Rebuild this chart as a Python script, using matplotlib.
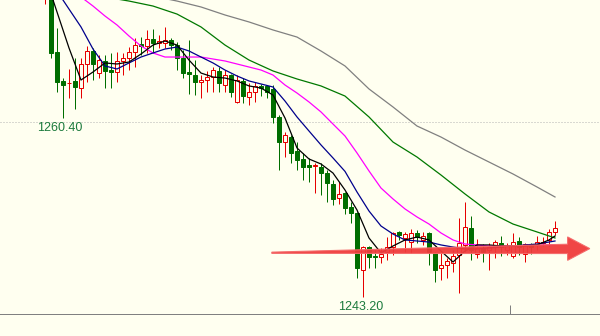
import numpy as np
import matplotlib
matplotlib.use("Agg")
import matplotlib.pyplot as plt
from matplotlib.patches import Polygon

# bar numbers of the visible candles
bars = list(range(7, 93))

opens = [1271.93, 1272.70, 1266.74, 1263.96, 1263.72, 1263.96, 1263.28, 1265.59, 1266.84, 1264.72,
         1265.88, 1265.01, 1264.82, 1265.88, 1266.17, 1266.74, 1267.51, 1267.32, 1267.99, 1267.61,
         1267.61, 1267.90, 1267.41, 1266.17, 1264.82, 1264.53, 1263.86, 1264.05, 1264.34, 1264.92,
         1263.57, 1264.53, 1261.94, 1263.96, 1262.42, 1262.90, 1263.48, 1263.48, 1263.19, 1260.50,
         1258.09, 1258.57, 1257.23, 1256.46, 1255.88, 1255.79, 1255.69, 1255.11, 1254.06, 1252.71,
         1253.19, 1251.85, 1251.27, 1245.79, 1248.00, 1247.14, 1247.04, 1247.52, 1248.00, 1249.44,
         1248.87, 1248.48, 1249.35, 1248.68, 1249.35, 1247.43, 1245.99, 1246.27, 1246.47, 1247.24,
         1248.20, 1249.83, 1247.33, 1247.91, 1247.72, 1248.00, 1248.39, 1247.72, 1247.14, 1248.58,
         1247.33, 1248.29, 1248.20, 1248.39, 1248.68, 1249.45]
highs = [1273.09, 1272.89, 1269.05, 1264.24, 1265.11, 1266.17, 1266.17, 1267.32, 1267.13, 1266.45,
         1266.45, 1266.65, 1266.74, 1266.65, 1267.22, 1268.09, 1268.18, 1268.86, 1268.95, 1268.38,
         1269.15, 1268.09, 1267.70, 1266.93, 1267.90, 1265.97, 1264.53, 1264.92, 1265.30, 1265.30,
         1265.01, 1264.63, 1264.53, 1264.24, 1263.76, 1263.86, 1263.67, 1263.57, 1263.57, 1260.69,
         1259.06, 1258.77, 1258.09, 1257.04, 1256.56, 1256.08, 1256.08, 1255.40, 1254.44, 1254.25,
         1253.29, 1252.33, 1251.37, 1248.10, 1248.10, 1247.72, 1247.91, 1248.96, 1249.44, 1249.54,
         1249.44, 1249.73, 1249.64, 1249.44, 1249.44, 1247.52, 1247.52, 1246.95, 1247.72, 1250.79,
         1252.33, 1250.98, 1248.77, 1248.29, 1248.39, 1248.68, 1249.06, 1248.39, 1249.35, 1248.96,
         1248.39, 1248.39, 1249.06, 1248.96, 1249.73, 1250.50]
lows = [1271.36, 1266.17, 1262.90, 1260.40, 1262.32, 1261.27, 1262.32, 1263.86, 1264.05, 1264.24,
        1263.28, 1263.28, 1263.86, 1264.53, 1265.01, 1265.30, 1266.45, 1266.65, 1266.65, 1267.13,
        1267.13, 1266.93, 1265.01, 1264.24, 1262.71, 1262.61, 1262.32, 1262.90, 1262.90, 1262.90,
        1262.90, 1262.42, 1261.84, 1261.84, 1261.65, 1261.94, 1262.51, 1262.32, 1259.92, 1255.40,
        1256.65, 1256.08, 1255.40, 1254.44, 1254.25, 1253.19, 1253.00, 1252.33, 1252.04, 1252.14,
        1251.17, 1250.31, 1245.03, 1243.20, 1245.99, 1245.99, 1246.47, 1246.75, 1247.24, 1248.68,
        1247.52, 1247.43, 1248.39, 1248.20, 1246.27, 1244.64, 1244.83, 1245.03, 1245.60, 1243.58,
        1247.52, 1246.75, 1246.95, 1246.56, 1245.79, 1246.95, 1247.14, 1247.24, 1246.95, 1247.24,
        1246.56, 1247.33, 1247.72, 1248.10, 1248.10, 1249.16]
closes = [1272.70, 1266.65, 1263.86, 1263.57, 1263.81, 1263.38, 1265.59, 1266.84, 1265.59, 1265.97,
          1264.92, 1264.82, 1265.88, 1266.17, 1266.74, 1267.41, 1267.32, 1267.99, 1267.61, 1267.80,
          1267.90, 1267.41, 1266.17, 1264.72, 1264.63, 1263.86, 1264.05, 1264.34, 1265.01, 1263.76,
          1264.53, 1262.90, 1264.05, 1262.51, 1262.90, 1263.48, 1263.28, 1262.90, 1260.50, 1258.09,
          1258.77, 1257.04, 1256.36, 1255.69, 1255.69, 1255.88, 1255.11, 1254.15, 1252.62, 1253.10,
          1251.75, 1251.27, 1245.99, 1248.00, 1247.04, 1247.04, 1247.33, 1248.00, 1249.35, 1249.16,
          1249.25, 1249.35, 1248.96, 1249.06, 1247.52, 1245.79, 1246.27, 1246.66, 1247.14, 1248.39,
          1249.93, 1247.72, 1247.91, 1247.52, 1248.00, 1248.48, 1248.00, 1248.10, 1248.48, 1248.00,
          1248.29, 1248.00, 1248.48, 1248.48, 1249.45, 1249.83]

# moving averages
ma_fast_bars = list(range(7, 92, 2)) + [92]
ma_black = [1274.05, 1270.59, 1267.13, 1264.05, 1264.82, 1265.69, 1265.59, 1265.78, 1266.55, 1267.41,
            1267.80, 1267.41, 1265.97, 1264.72, 1264.34, 1264.24, 1263.96, 1263.48, 1263.28, 1262.61,
            1260.40, 1257.52, 1256.46, 1255.98, 1255.11, 1253.48, 1251.56, 1248.87, 1247.43, 1248.10,
            1248.68, 1248.96, 1248.68, 1247.62, 1246.56, 1247.62, 1248.20, 1248.20, 1248.10, 1248.10,
            1248.10, 1248.20, 1248.68, 1249.06]
ma_blue = [1274.33, 1272.60, 1270.87, 1269.15, 1267.03, 1265.40, 1265.11, 1265.69, 1266.26, 1266.65,
           1267.03, 1267.22, 1266.84, 1266.26, 1265.69, 1265.01, 1264.44, 1263.96, 1263.67, 1263.38,
           1262.03, 1260.50, 1259.15, 1257.81, 1256.56, 1255.27, 1253.29, 1251.46, 1250.02, 1249.25,
           1248.68, 1248.58, 1248.48, 1248.20, 1248.00, 1247.81, 1247.81, 1247.91, 1248.00, 1248.10,
           1248.20, 1248.29, 1248.48, 1248.58]
ma_magenta = [1274.82, 1273.85, 1272.89, 1272.03, 1271.16, 1270.20, 1269.34, 1268.28, 1267.32, 1266.65,
              1266.26, 1266.26, 1266.26, 1266.26, 1266.07, 1265.88, 1265.59, 1265.30, 1265.01, 1264.53,
              1263.57, 1262.80, 1261.94, 1260.98, 1259.82, 1258.67, 1257.04, 1255.31, 1253.67, 1252.62,
              1251.66, 1250.89, 1250.21, 1249.35, 1248.68, 1248.29, 1248.20, 1248.10, 1248.10, 1248.10,
              1248.10, 1248.20, 1248.20, 1248.20]
ma_green_bars = list(range(13, 92, 4)) + [92]
ma_green = [1272.51, 1272.03, 1271.64, 1271.16, 1270.39, 1269.15, 1267.41, 1265.97, 1264.92, 1264.15,
            1263.48, 1262.51, 1260.50, 1258.09, 1256.65, 1254.92, 1253.10, 1251.37, 1250.21, 1249.45,
            1248.87]
ma_gray_bars = list(range(25, 92, 4)) + [92]
ma_gray = [1272.12, 1271.64, 1271.07, 1270.30, 1269.63, 1268.86, 1268.18, 1266.84, 1265.40, 1263.19,
           1261.46, 1259.63, 1258.57, 1257.32, 1256.17, 1255.02, 1253.77, 1252.81]

grid_level = 1260.00
arrow_start = (44.8, 1247.45)
arrow_tip = (97.8, 1247.85)

bg = "#fffff0"
red = "#e60000"
green = "#006e00"
label_color = "#1b7a3c"
px = 0.72  # one pixel in points at 100 dpi

fig = plt.figure(figsize=(6, 3.36), dpi=100)
fig.patch.set_facecolor(bg)
ax = fig.add_axes([0, 0, 1, 1])
ax.set_xlim(-0.5, 99.5)
ax.set_ylim(1239.45, 1271.74)
ax.axis("off")

o = np.array(opens)
c = np.array(closes)
up = c >= o

ax.axhline(grid_level, color="#b4b4b4", lw=px, ls=(0, (1, 2)), zorder=1)

# candles
ax.vlines(bars, lows, highs, colors=np.where(up, red, green), lw=px, zorder=2)
ax.bar(bars, np.maximum(np.abs(c - o), 0.02), bottom=np.minimum(o, c), width=0.7,
       color=np.where(up, bg, green), edgecolor=np.where(up, red, green), linewidth=px, zorder=3)

line_kw = dict(lw=0.9, zorder=4)
ax.plot(ma_gray_bars, ma_gray, color="#808080", **line_kw)
ax.plot(ma_green_bars, ma_green, color="#007800", **line_kw)
ax.plot(ma_fast_bars, ma_magenta, color="#ff00ff", **line_kw)
ax.plot(ma_fast_bars, ma_blue, color="#00008c", **line_kw)
ax.plot(ma_fast_bars, ma_black, color="black", **line_kw)

# low labels
for price in (1260.40, 1243.20):
    b = bars[lows.index(price)]
    ax.annotate(f"{price:.2f}", xy=(b, price), xytext=(-2, -7), textcoords="offset points",
                ha="center", va="center", fontsize=9, family="Liberation Sans",
                color=label_color, zorder=6)

# red arrow drawn over the chart
x0, y0 = arrow_start
x1, y1 = arrow_tip
head_len = 3.7
xb = x1 - head_len
yb = y0 + (y1 - y0) * (xb - x0) / (x1 - x0)
pts = [(x0, y0 + 0.06), (xb, yb + 0.45), (xb, yb + 1.15), (x1, y1),
       (xb, yb - 1.1), (xb, yb - 0.45), (x0, y0 - 0.06)]
ax.add_patch(Polygon(pts, closed=True, facecolor="#f03c3c", edgecolor="#f46a6a",
                     lw=0.8, alpha=0.95, zorder=5))

# bottom border with time tick
bottom_level = 1241.56
ax.axhline(bottom_level, color="#808080", lw=px, zorder=1)
ax.vlines(84.5, bottom_level, bottom_level + 0.87, color="#808080", lw=px, zorder=1)

fig.savefig("out.png", dpi=100, facecolor=bg)
